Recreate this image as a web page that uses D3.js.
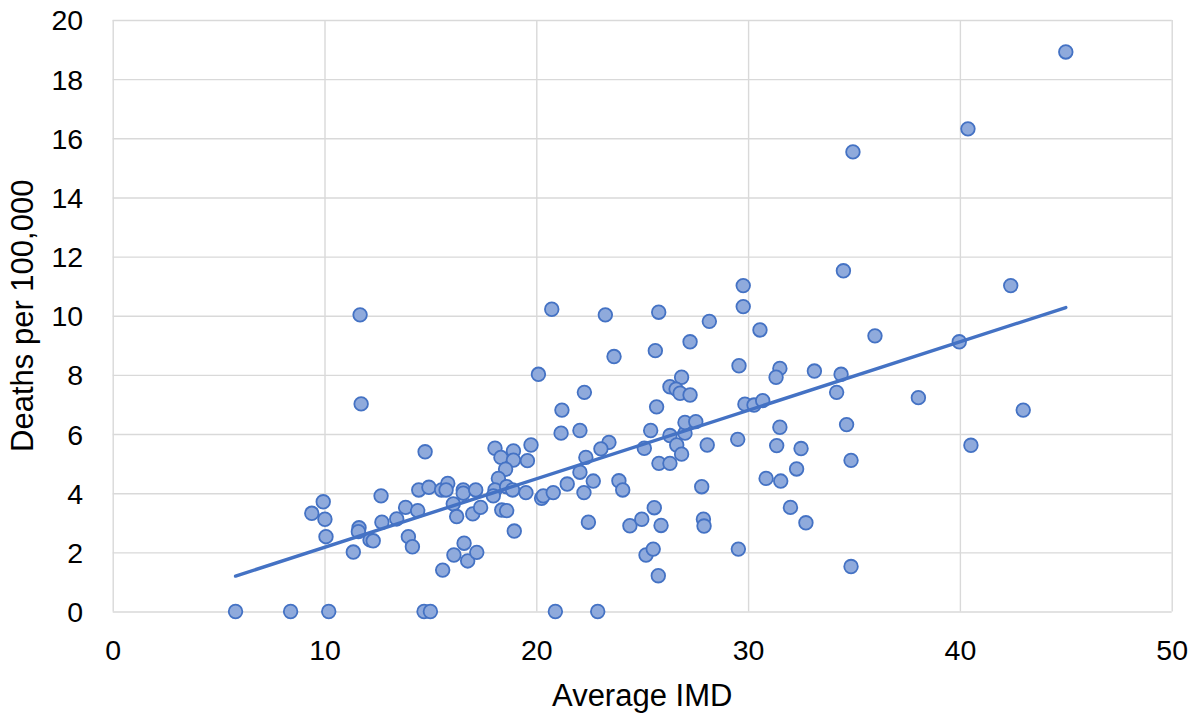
<!DOCTYPE html>
<html>
<head>
<meta charset="utf-8">
<script src="https://cdn.jsdelivr.net/npm/d3@7"></script>
<style>
  html, body { margin: 0; padding: 0; background: #fff; }
  svg { display: block; }
  text { font-family: "Liberation Sans", Arial, sans-serif; }
</style>
</head>
<body>
<svg id="chart" width="1197" height="713"></svg>
<script>
// ---- Data ----
const imd = [
  5.8, 8.4, 10.2, 14.7, 15.0, 20.9, 22.9,
  14.75, 9.94, 9.40, 10.02, 10.07, 11.36, 11.63, 11.6, 12.15, 12.3, 12.67, 12.71, 13.41,
  13.83, 14.40, 13.96, 14.15, 14.45, 14.93, 15.53, 15.82, 15.74, 16.08, 16.24, 16.55,
  16.55, 17.0, 17.14, 17.37, 15.58, 16.11, 16.59, 16.76, 17.19, 18.05, 18.33, 18.92,
  18.92, 19.75, 19.58, 18.55, 18.21, 18.05, 17.97, 18.6, 18.88, 18.37, 18.6, 18.96,
  19.51, 20.25, 20.33,
  21.17, 22.06, 23.43, 23.05, 22.34, 22.06, 21.46, 22.69, 22.25, 20.8, 22.46, 23.9,
  24.08, 25.4, 26.31, 27.02, 27.02, 27.53, 25.1, 26.63, 26.86, 25.79, 26.31, 28.07,
  29.51, 31.5, 31.35, 30.85, 31.54, 27.81, 24.42, 24.98, 25.57, 25.89, 27.89, 27.92,
  25.18, 25.52, 25.76, 29.54, 32.0,
  20.73, 23.26, 25.78, 29.77, 29.77, 28.17, 30.56, 27.26, 25.62, 23.67, 20.1, 22.27,
  21.21, 25.68, 26.86, 26.31, 26.6, 26.79, 27.26, 29.57, 31.5, 31.32, 33.13, 29.85,
  30.28, 30.69,
  34.5, 42.4, 35.99, 39.97, 34.39, 34.18, 38.04, 42.99, 34.65, 32.5, 40.52, 34.86,
  32.29, 32.73, 34.86,
  45.0, 40.38, 34.95, 11.68, 11.73
];
const deaths = [
  0, 0, 0, 0, 0, 0, 0,
  5.4, 3.71, 3.32, 3.12, 2.53, 2.01, 2.83, 2.70, 2.42, 2.39, 3.91, 3.02, 3.13,
  3.52, 3.41, 2.53, 2.19, 4.11, 4.20, 4.11, 4.33, 4.11, 3.64, 3.21, 4.11,
  4.0, 3.30, 4.11, 3.52, 1.40, 1.91, 2.31, 1.71, 2.0, 5.52, 5.21, 5.43,
  5.12, 5.63, 5.10, 4.81, 4.50, 4.11, 3.91, 4.22, 4.11, 3.43, 3.41, 2.72,
  4.02, 3.83, 3.91,
  6.03, 6.12, 5.72, 5.50, 5.21, 4.71, 4.31, 4.41, 4.02, 4.02, 3.02, 4.42,
  4.11, 6.12, 5.95, 6.03, 6.39, 6.42, 5.52, 5.63, 5.32, 5.01, 5.01, 5.63,
  5.82, 6.23, 5.61, 4.50, 4.41, 4.22, 2.90, 3.12, 3.51, 2.91, 3.12, 2.89,
  1.91, 2.11, 1.21, 2.11, 3.52,
  10.22, 10.03, 10.12, 11.02, 10.31, 9.81, 9.52, 9.12, 8.82, 8.62, 8.02, 7.41,
  6.81, 6.92, 7.92, 7.6, 7.52, 7.38, 7.32, 8.31, 8.22, 7.92, 8.13, 7.01,
  6.98, 7.13,
  11.52, 11.02, 9.32, 9.12, 8.02, 7.41, 7.23, 6.81, 6.32, 5.51, 5.62, 5.11,
  4.82, 3.0, 1.52,
  18.92, 16.32, 15.54, 10.03, 7.02
];
const xTicks = [0, 10, 20, 30, 40, 50];
const yTicks = [0, 2, 4, 6, 8, 10, 12, 14, 16, 18, 20];
const xTitle = "Average IMD";
const yTitle = "Deaths per 100,000";

// ---- Layout ----
const svg = d3.select("#chart");
const plotL = 112.7, plotR = 1171.7, plotT = 20, plotB = 611.5;

const x = d3.scaleLinear().domain([0, 50]).range([plotL, plotR]);
const y = d3.scaleLinear().domain([0, 20]).range([plotB, plotT]);

const gridColor = "#D9D9D9";

// Vertical gridlines via axis
const gx = svg.append("g")
  .attr("transform", `translate(0,${plotB})`)
  .call(d3.axisBottom(x).tickValues(xTicks).tickSize(-(plotB - plotT)).tickFormat(d3.format("d")).tickPadding(0));
gx.select(".domain").remove();
gx.selectAll(".tick line").attr("stroke", gridColor).attr("stroke-width", 1.4);
gx.selectAll(".tick text")
  .attr("y", 48.5).attr("dy", null)
  .attr("font-size", 28.5).attr("fill", "#000")
  .attr("font-family", "Liberation Sans, Arial, sans-serif");

// Horizontal gridlines via axis
const gy = svg.append("g")
  .attr("transform", `translate(${plotL},0)`)
  .call(d3.axisLeft(y).tickValues(yTicks).tickSize(-(plotR - plotL)).tickFormat(d3.format("d")).tickPadding(0));
gy.select(".domain").remove();
gy.selectAll(".tick line").attr("stroke", gridColor).attr("stroke-width", 1.4);
gy.selectAll(".tick text")
  .attr("x", -29.5).attr("dy", "0.35em")
  .attr("font-size", 28.5).attr("fill", "#000")
  .attr("font-family", "Liberation Sans, Arial, sans-serif");

// Points
const pts = imd.map((v, i) => ({ x: v, y: deaths[i] }));
svg.append("g").selectAll("circle")
  .data(pts).enter().append("circle")
  .attr("cx", d => x(d.x))
  .attr("cy", d => y(d.y))
  .attr("r", 6.8)
  .attr("fill", "#8FAADC")
  .attr("stroke", "#4472C4")
  .attr("stroke-width", 1.8);

// Linear trendline (least squares fit of the data)
const mx = d3.mean(pts, d => d.x), my = d3.mean(pts, d => d.y);
const sxy = d3.sum(pts, d => (d.x - mx) * (d.y - my));
const sxx = d3.sum(pts, d => (d.x - mx) * (d.x - mx));
const slope = sxy / sxx, intercept = my - slope * mx;
const [x0, x1] = d3.extent(imd);
svg.append("line")
  .attr("x1", x(x0)).attr("y1", y(intercept + slope * x0))
  .attr("x2", x(x1)).attr("y2", y(intercept + slope * x1))
  .attr("stroke", "#4472C4")
  .attr("stroke-width", 3.4)
  .attr("stroke-linecap", "round");

// Axis titles
svg.append("text")
  .attr("x", (plotL + plotR) / 2).attr("y", 706)
  .attr("text-anchor", "middle")
  .attr("font-size", 31).attr("fill", "#000")
  .text(xTitle);

svg.append("text")
  .attr("transform", `translate(33,${(plotT + plotB) / 2}) rotate(-90)`)
  .attr("text-anchor", "middle")
  .attr("font-size", 31).attr("fill", "#000")
  .text(yTitle);
</script>
</body>
</html>
